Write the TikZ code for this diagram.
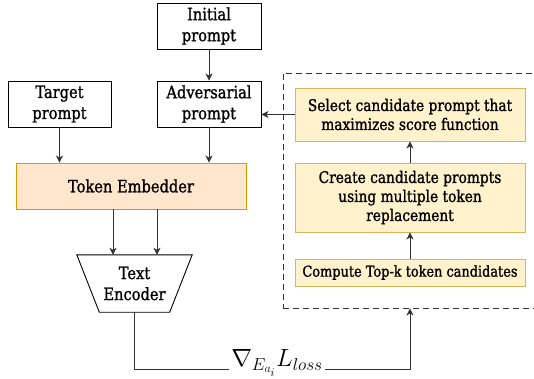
\documentclass[tikz,border=0pt]{standalone}
\usepackage{fontspec}
\setmainfont{DejaVu Serif}[FakeStretch=0.86,FakeBold=1.2]
\usetikzlibrary{arrows.meta,calc}
\definecolor{embfill}{HTML}{FFE6CC}
\definecolor{embdraw}{HTML}{D79B00}
\definecolor{yelfill}{HTML}{FFF2CC}
\definecolor{yeldraw}{HTML}{D6B656}
\definecolor{linec}{HTML}{333333}
\begin{document}
\begin{tikzpicture}[x=1pt,y=-1pt,
  every node/.style={font=\fontsize{17}{21}\selectfont, align=center, inner sep=0pt},
  wbox/.style={draw=black, fill=white, line width=0.9pt},
  obox/.style={draw=embdraw, fill=embfill, line width=0.9pt},
  ybox/.style={draw=yeldraw, fill=yelfill, line width=0.9pt, font=\fontsize{16}{19}\selectfont},
  arr/.style={draw=linec, line width=1pt, -{Stealth[length=7pt,width=7pt,inset=2pt]}},
  grpbox/.style={draw=linec, line width=0.9pt, dash pattern=on 6pt off 4pt}]
\clip (0,0) rectangle (534,378);
\fill[white] (0,0) rectangle (534,378);
% dashed group
\node[grpbox, minimum width=277pt, minimum height=235pt] (grp) at (421.5,190.5) {};
% left column
\node[wbox, minimum width=104pt, minimum height=46pt] (init) at (209,26) {Initial\\prompt};
\node[wbox, minimum width=103pt, minimum height=46pt] (target) at (59.5,104) {Target\\prompt};
\node[wbox, minimum width=104pt, minimum height=46pt] (adv) at (209,104) {Adversarial\\prompt};
\node[obox, minimum width=230pt, minimum height=46pt] (emb) at (131,186) {Token Embedder};
\node[minimum width=115pt, minimum height=57pt] (enc) at (134.5,283.5) {Text\\Encoder};
\draw[line width=0.9pt] (enc.north west) -- (enc.north east) -- ([xshift=-22.5pt]enc.south east) -- ([xshift=22.5pt]enc.south west) -- cycle;
% right column
\node[ybox, minimum width=230pt, minimum height=53pt] (sel) at (410,114.5) {Select candidate prompt that\\maximizes score function};
\node[ybox, minimum width=230pt, minimum height=69pt] (cre) at (410,197.5) {Create candidate prompts\\using multiple token\\replacement};
\node[ybox, minimum width=230pt, minimum height=27pt, font=\fontsize{15}{19}\selectfont] (comp) at (410,272.5) {Compute Top-k token candidates};
% connectors
\draw[arr] (init) -- (adv);
\draw[arr] (target) -- (target |- emb.north);
\draw[arr] (adv) -- (adv |- emb.north);
\draw[arr] ([xshift=-21.5pt]enc.north |- emb.south) -- ([xshift=-21.5pt]enc.north);
\draw[arr] ([xshift=22.5pt]enc.north |- emb.south) -- ([xshift=22.5pt]enc.north);
\draw[arr] (comp) -- (cre);
\draw[arr] (cre) -- (sel);
\draw[arr] (sel.west) -- (adv.east |- sel.west);
\coordinate (c1) at (410,369);
\draw[arr] (enc.south) |- (c1) -- (grp.south -| c1);
\node[fill=white, inner xsep=2pt, inner ysep=1pt, font=\fontsize{23}{25}\selectfont] (lbl) at (277,363) {$\nabla_{E_{a_i}}L_{loss}$};
\end{tikzpicture}
\end{document}
